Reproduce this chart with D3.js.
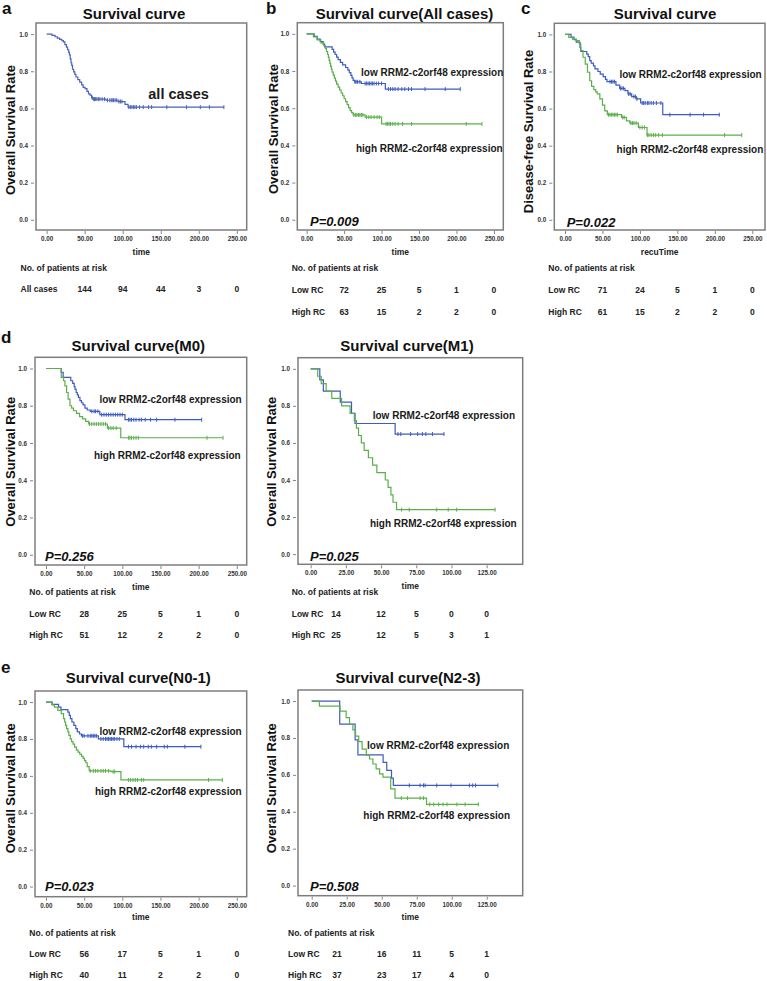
<!DOCTYPE html>
<html><head><meta charset="utf-8">
<script src="https://cdn.jsdelivr.net/npm/d3@7"></script>
<style>body{margin:0;background:#fff} svg{display:block}</style>
</head><body><svg id="c" width="767" height="981"></svg>
<script>
// ---------------- DATA ----------------
const yTicks = [0, 0.2, 0.4, 0.6, 0.8, 1.0];
const xTicksLong = [0, 50, 100, 150, 200, 250];
const xTicksShort = [0, 25, 50, 75, 100, 125];

const groupLabels = ["low RRM2-c2orf48 expression", "high RRM2-c2orf48 expression"];
const riskRowsAll = ["All cases"];
const riskRowsRC = ["Low RC", "High RC"];

// panel a (all cases)
const aAllSteps = [[0,1],[7,0.993],[11,0.986],[14,0.979],[17,0.972],[20,0.965],[22,0.958],[24,0.944],[26,0.93],[27.5,0.916],[29,0.902],[30,0.888],[31,0.867],[32,0.846],[33,0.832],[34,0.811],[35.5,0.797],[37,0.783],[38.5,0.769],[41,0.755],[43.5,0.741],[46,0.727],[48,0.713],[50.5,0.706],[53,0.692],[55,0.678],[57,0.671],[59,0.657],[61,0.65],[78,0.644],[94,0.637],[103,0.622],[107,0.607]];
const aAllCensor = [60,62,63,64,66,68,70,73,76,80,83,85,87,88,90,92,95,97,99,108,110,112,114,116,118,122,127,134,138,158,184,202,214,233];
const aRisk = [[144, 94, 44, 3, 0]];

// panel b (all cases, low / high)
const bLowSteps = [[0,1],[10,0.986],[14,0.972],[18,0.958],[22,0.944],[24,0.93],[34,0.916],[36,0.902],[38,0.889],[40,0.875],[42,0.861],[45,0.847],[48,0.833],[52,0.819],[55,0.805],[57,0.791],[59,0.777],[60.5,0.763],[62,0.75],[64,0.742],[73,0.733],[105,0.703]];
const bLowCensor = [64.5,66,68,71,78,80,82,84,86,88,90,93,96,100,109,112,115,118,122,127,131,136,140,158,185,205];
const bHighSteps = [[0,1],[9,0.984],[14,0.968],[19,0.952],[23,0.937],[25,0.921],[26.5,0.905],[28,0.889],[29,0.873],[30,0.857],[31,0.841],[32,0.825],[33,0.81],[34,0.794],[35.5,0.778],[37,0.762],[38.5,0.746],[40,0.73],[42,0.714],[44,0.698],[46,0.682],[48,0.667],[50,0.651],[52,0.635],[54,0.619],[56,0.603],[58,0.587],[60,0.576],[62,0.564],[78,0.552],[100,0.516]];
const bHighCensor = [63,65,67,69,71,73,75,80,83,86,90,94,97,106,108,110,112,115,118,122,128,140,213,234];
const bRisk = [[72, 25, 5, 1, 0], [63, 15, 2, 2, 0]];

// panel c (disease-free)
const cLowSteps = [[0,1],[8,0.986],[12,0.972],[15,0.958],[20,0.93],[21,0.908],[29,0.894],[31,0.88],[33,0.859],[35,0.845],[38,0.83],[40,0.814],[44,0.8],[47,0.786],[51,0.772],[54,0.758],[56,0.745],[68,0.727],[73,0.709],[80,0.697],[84,0.679],[89,0.665],[95,0.652],[101,0.63],[130.5,0.567]];
const cLowCensor = [60,62,64,66,74,76,78,85,87,92,94,96,103,105,107,110,112,115,118,122,128,140,167,185,206];
const cHighSteps = [[0,1],[5,0.984],[10,0.975],[15,0.967],[19,0.95],[21,0.913],[24,0.877],[27,0.84],[30,0.796],[33,0.75],[35.5,0.72],[38.5,0.702],[41,0.69],[43,0.679],[46.5,0.652],[50,0.619],[53,0.588],[56.5,0.567],[75.5,0.552],[82,0.534],[86.5,0.522],[98,0.498],[109.5,0.457]];
const cHighCensor = [58,60,62,64,66,68,70,77,79,88,90,92,95,100,103,106,110,112,115,118,121,125,130,213,236];
const cRisk = [[71, 24, 5, 1, 0], [61, 15, 2, 2, 0]];

// panel d left (M0)
const m0LowSteps = [[0,1],[20,0.979],[22.5,0.952],[32.5,0.934],[35,0.92],[37,0.903],[38,0.889],[39.5,0.871],[41,0.858],[42.5,0.845],[44.5,0.827],[46.5,0.816],[48.5,0.805],[51,0.787],[54,0.777],[58,0.77],[70.5,0.752],[103.5,0.725]];
const m0LowCensor = [60,63,65,68,73,76,79,82,85,88,91,94,97,100,108,110,112,115,118,122,125,130,137,145,169,204];
const m0HighSteps = [[0,1],[20,0.952],[23,0.934],[24.8,0.907],[27,0.871],[29,0.836],[31.4,0.8],[33.6,0.787],[36,0.773],[40,0.759],[44,0.741],[48,0.729],[52,0.716],[56,0.702],[80.5,0.68],[98,0.628]];
const m0HighCensor = [57,60,63,66,69,72,75,78,82,85,88,92,108,110,112,115,118,121,211,232];
const m0Risk = [[28, 25, 5, 1, 0], [51, 12, 2, 2, 0]];

// panel d right (M1)
const m1LowSteps = [[0,1],[6.5,0.94],[9,0.88],[21,0.82],[29,0.76],[31.5,0.705],[60,0.648]];
const m1LowCensor = [62,64,71,76,79.4,81.8,86.5,94.7];
const m1HighSteps = [[0,1],[5,0.96],[7.5,0.92],[11,0.88],[15,0.84],[22,0.8],[28,0.76],[31,0.72],[32.5,0.68],[34,0.64],[36,0.6],[38,0.56],[41,0.52],[44,0.48],[47,0.44],[53,0.4],[55,0.36],[57,0.32],[58.5,0.28],[61,0.24]];
const m1HighCensor = [64.6,70,89.5,97.7,103.7,131];
const m1Risk = [[14, 12, 5, 0, 0], [25, 12, 5, 3, 1]];

// panel e left (N0-1)
const n01LowSteps = [[0,1],[8,0.987],[16.5,0.973],[19.6,0.959],[28.7,0.946],[30.5,0.928],[32,0.91],[34,0.892],[36.5,0.874],[39,0.856],[41,0.838],[44,0.827],[46.5,0.817],[68.6,0.8],[102,0.758]];
const n01LowCensor = [48,50,55,58,60,62,64,66,72,75,78,80,82,84,86,88,90,93,96,108,112,118,124,128,134,138,145,155,159,182,203];
const n01HighSteps = [[0,1],[8,0.985],[11,0.973],[15.5,0.955],[20,0.937],[23,0.91],[24.5,0.892],[25.7,0.874],[27,0.856],[28.7,0.838],[30,0.82],[31.8,0.8],[33.5,0.786],[35.4,0.772],[37.5,0.756],[39.8,0.74],[42,0.729],[44.2,0.718],[46.5,0.706],[48.7,0.695],[50.5,0.683],[52.2,0.671],[54,0.65],[56.6,0.627],[85,0.623],[98.2,0.578]];
const n01HighCensor = [58,62,65,68,72,75,78,82,88,90,108,111,114,117,120,125,128,213,231];
const n01Risk = [[56, 17, 5, 1, 0], [40, 11, 2, 2, 0]];

// panel e right (N2-3)
const n23LowSteps = [[0,1],[20,0.875],[31,0.79],[33,0.708],[51,0.668],[53.6,0.624],[57,0.582],[58.3,0.543]];
const n23LowCensor = [69.7,77.4,79.8,81,89.3,99.5,112.6,115,117,133];
const n23HighSteps = [[0,1],[5.5,0.973],[20.2,0.946],[24.6,0.91],[27,0.874],[29.4,0.844],[31.3,0.81],[33.6,0.78],[36,0.74],[39,0.707],[41.3,0.686],[43.7,0.659],[46,0.632],[48.5,0.605],[50.9,0.588],[56.4,0.524],[59.5,0.474],[82,0.44]];
const n23HighCensor = [64,68.4,77.4,79.8,84.3,87.2,90.7,93.8,96.6,103.7,109.6,119];
const n23Risk = [[21, 16, 11, 5, 1], [37, 23, 17, 4, 0]];

const titles = ["Survival curve", "Survival curve(All cases)", "Survival curve", "Survival curve(M0)", "Survival curve(M1)", "Survival curve(N0-1)", "Survival curve(N2-3)"];
const pValues = [null, "P=0.009", "P=0.022", "P=0.256", "P=0.025", "P=0.023", "P=0.508"];

// ---------------- STYLE / LAYOUT ----------------
const BLUE = "#3d5cbf", GREEN = "#5cae4b", BLUE_A = "#4b63b3";
const FONT = "'Liberation Sans', Arial, sans-serif";
const colsLong = [50, 100, 150, 200, 250];
const colsShort = [18, 50, 75, 100, 125];

const panels = [
  {letter:"a", lx:2, ly:14, title:titles[0], tx:134, ty:18.5, L:36, R:246.7, T:23, B:230, xd:[-14,263], xt:xTicksLong,
   yl:"Overall Survival Rate", ylx:10, yly:130, xl:"time", xly:252,
   series:[{s:aAllSteps, c:aAllCensor, end:233, col:BLUE_A}],
   notes:[{t:"all cases", x:148.3, y:94, a:"start", fs:14.5}],
   p:null, risk:{rows:riskRowsAll, vals:aRisk, cols:colsLong, hx:20.5, hy:268, ry:[289]}},
  {letter:"b", lx:266, ly:14, title:titles[1], tx:404.5, ty:18.5, L:297.3, R:503.3, T:22.7, B:230, xd:[-12.5,262.5], xt:xTicksLong,
   yl:"Overall Survival Rate", ylx:273.3, yly:129, xl:"time", xly:252,
   series:[{s:bLowSteps, c:bLowCensor, end:205, col:BLUE},{s:bHighSteps, c:bHighCensor, end:234, col:GREEN}],
   notes:[{t:groupLabels[0], x:503.3, y:72.7, a:"end", fs:10},{t:groupLabels[1], x:502.7, y:148.3, a:"end", fs:10}],
   p:{t:pValues[1], x:310, y:221.7}, risk:{rows:riskRowsRC, vals:bRisk, cols:colsLong, hx:291.7, hy:268.3, ry:[290, 311.7]}},
  {letter:"c", lx:521, ly:14, title:titles[2], tx:665, ty:19, L:554.3, R:765, T:23.3, B:230, xd:[-14.3,267], xt:xTicksLong,
   yl:"Disease-free Survival Rate", ylx:528, yly:131.5, xl:"recuTime", xly:252,
   series:[{s:cLowSteps, c:cLowCensor, end:206, col:BLUE},{s:cHighSteps, c:cHighCensor, end:236, col:GREEN}],
   notes:[{t:groupLabels[0], x:761.7, y:74, a:"end", fs:10},{t:groupLabels[1], x:763.3, y:149.3, a:"end", fs:10}],
   p:{t:pValues[2], x:566.7, y:222.7}, risk:{rows:riskRowsRC, vals:cRisk, cols:colsLong, hx:548.3, hy:268.3, ry:[290, 311.7]}},
  {letter:"d", lx:1, ly:343, title:titles[3], tx:138.3, ty:350.7, L:35, R:246.7, T:357.3, B:565, xd:[-14.4,263], xt:xTicksLong,
   yl:"Overall Survival Rate", ylx:10, yly:461.7, xl:"time", xly:586.7,
   series:[{s:m0LowSteps, c:m0LowCensor, end:204, col:BLUE},{s:m0HighSteps, c:m0HighCensor, end:232, col:GREEN}],
   notes:[{t:groupLabels[0], x:241.7, y:399, a:"end", fs:10},{t:groupLabels[1], x:240.7, y:455, a:"end", fs:10}],
   p:{t:pValues[3], x:45, y:556.7}, risk:{rows:riskRowsRC, vals:m0Risk, cols:colsLong, hx:29.3, hy:591.7, ry:[614.3, 635]}},
  {letter:null, title:titles[4], tx:407, ty:350.7, L:298, R:522.7, T:357.7, B:564.3, xd:[-9,150.6], xt:xTicksShort,
   yl:"Overall Survival Rate", ylx:271.7, yly:461.7, xl:"time", xly:585.7,
   series:[{s:m1LowSteps, c:m1LowCensor, end:94.7, col:BLUE},{s:m1HighSteps, c:m1HighCensor, end:131, col:GREEN}],
   notes:[{t:groupLabels[0], x:515, y:415.7, a:"end", fs:10},{t:groupLabels[1], x:516.7, y:523.3, a:"end", fs:10}],
   p:{t:pValues[4], x:310, y:556.7}, risk:{rows:riskRowsRC, vals:m1Risk, cols:colsShort, hx:291.7, hy:591.7, ry:[614.3, 635]}},
  {letter:"e", lx:1, ly:673, title:titles[5], tx:138.3, ty:682.5, L:35, R:246.7, T:691, B:896.7, xd:[-14.4,263], xt:xTicksLong,
   yl:"Overall Survival Rate", ylx:10, yly:788.3, xl:"time", xly:916.7,
   series:[{s:n01LowSteps, c:n01LowCensor, end:203, col:BLUE},{s:n01HighSteps, c:n01HighCensor, end:231, col:GREEN}],
   notes:[{t:groupLabels[0], x:241.7, y:731, a:"end", fs:10},{t:groupLabels[1], x:241.7, y:791, a:"end", fs:10}],
   p:{t:pValues[5], x:45, y:886.7}, risk:{rows:riskRowsRC, vals:n01Risk, cols:colsLong, hx:29.3, hy:932.7, ry:[954, 975]}},
  {letter:null, title:titles[6], tx:408, ty:682.5, L:298, R:522.7, T:690, B:895.7, xd:[-9.8,150.7], xt:xTicksShort,
   yl:"Overall Survival Rate", ylx:271.7, yly:788.3, xl:"time", xly:916.7,
   series:[{s:n23LowSteps, c:n23LowCensor, end:133, col:BLUE},{s:n23HighSteps, c:n23HighCensor, end:119, col:GREEN}],
   notes:[{t:groupLabels[0], x:509.3, y:745, a:"end", fs:10},{t:groupLabels[1], x:510, y:815.7, a:"end", fs:10}],
   p:{t:pValues[6], x:310, y:886.7}, risk:{rows:riskRowsRC, vals:n23Risk, cols:colsShort, hx:288, hy:932.7, ry:[954, 975]}}
];

const svg = d3.select("#c");
svg.append("rect").attr("width", 767).attr("height", 981).attr("fill", "#fff");

function survAt(steps, t) {
  let s = steps[0][1];
  for (const [ti, si] of steps) { if (ti <= t) s = si; else break; }
  return s;
}

panels.forEach(p => {
  const g = svg.append("g");
  const x = d3.scaleLinear().domain(p.xd).range([p.L, p.R]);
  const y = d3.scaleLinear().domain([-0.055, 1.06]).range([p.B, p.T]);

  if (p.letter) g.append("text").attr("x", p.lx).attr("y", p.ly).text(p.letter)
    .attr("font-family", FONT).attr("font-weight", "bold").attr("font-size", 17).attr("fill", "#111");
  g.append("text").attr("x", p.tx).attr("y", p.ty).attr("text-anchor", "middle").text(p.title)
    .attr("font-family", FONT).attr("font-weight", "bold").attr("font-size", 15).attr("fill", "#111");

  // axes
  const xa = g.append("g").attr("transform", `translate(0,${p.B + 1})`)
    .call(d3.axisBottom(x).tickValues(p.xt).tickFormat(d3.format(".2f")).tickSize(3).tickPadding(2.5));
  const ya = g.append("g").attr("transform", `translate(${p.L - 2},0)`)
    .call(d3.axisLeft(y).tickValues(yTicks).tickFormat(d3.format(".1f")).tickSize(3).tickPadding(3));
  [xa, ya].forEach(a => {
    a.select(".domain").remove();
    a.selectAll("line").attr("stroke", "#666").attr("stroke-width", 0.8);
    a.selectAll("text").attr("font-family", FONT).attr("font-size", 6.3).attr("font-weight", "bold").attr("fill", "#333");
  });

  // frame
  g.append("rect").attr("x", p.L).attr("y", p.T).attr("width", p.R - p.L).attr("height", p.B - p.T)
    .attr("fill", "none").attr("stroke", "#7d7d7d").attr("stroke-width", 1.5);

  // curves
  const line = d3.line().x(d => x(d[0])).y(d => y(d[1])).curve(d3.curveStepAfter);
  p.series.forEach(se => {
    const pts = se.s.concat([[se.end, se.s[se.s.length - 1][1]]]);
    g.append("path").attr("d", line(pts)).attr("fill", "none").attr("stroke", se.col).attr("stroke-width", 1.2);
    g.selectAll(null).data(se.c).enter().append("line")
      .attr("x1", d => x(d)).attr("x2", d => x(d))
      .attr("y1", d => y(survAt(se.s, d)) - 2).attr("y2", d => y(survAt(se.s, d)) + 2)
      .attr("stroke", se.col).attr("stroke-width", 1);
  });

  // annotations
  p.notes.forEach(n => {
    g.append("text").attr("x", n.x).attr("y", n.y).attr("dy", "0.35em").attr("text-anchor", n.a).text(n.t)
      .attr("font-family", FONT).attr("font-weight", "bold").attr("font-size", n.fs).attr("fill", "#1a1a1a");
  });
  if (p.p) g.append("text").attr("x", p.p.x).attr("y", p.p.y).attr("dy", "0.35em").text(p.p.t)
    .attr("font-family", FONT).attr("font-weight", "bold").attr("font-style", "italic").attr("font-size", 13).attr("fill", "#111");

  // axis labels
  g.append("text").attr("transform", `translate(${p.ylx},${p.yly}) rotate(-90)`).attr("text-anchor", "middle")
    .attr("dy", "0.35em").text(p.yl).attr("font-family", FONT).attr("font-weight", "bold").attr("font-size", 13).attr("fill", "#111");
  g.append("text").attr("x", (p.L + p.R) / 2).attr("y", p.xly).attr("dy", "0.35em").attr("text-anchor", "middle").text(p.xl)
    .attr("font-family", FONT).attr("font-weight", "bold").attr("font-size", 8.5).attr("fill", "#222");

  // risk table
  const r = p.risk;
  const rf = t => t.attr("font-family", FONT).attr("font-weight", "bold").attr("font-size", 8.5).attr("fill", "#222").attr("dy", "0.35em");
  rf(g.append("text").attr("x", r.hx).attr("y", r.hy).text("No. of patients at risk"));
  r.rows.forEach((rowName, i) => {
    rf(g.append("text").attr("x", r.hx).attr("y", r.ry[i]).text(rowName));
    r.vals[i].forEach((v, j) => {
      rf(g.append("text").attr("x", x(r.cols[j])).attr("y", r.ry[i]).attr("text-anchor", "middle").text(v));
    });
  });
});
</script>
</body></html>
